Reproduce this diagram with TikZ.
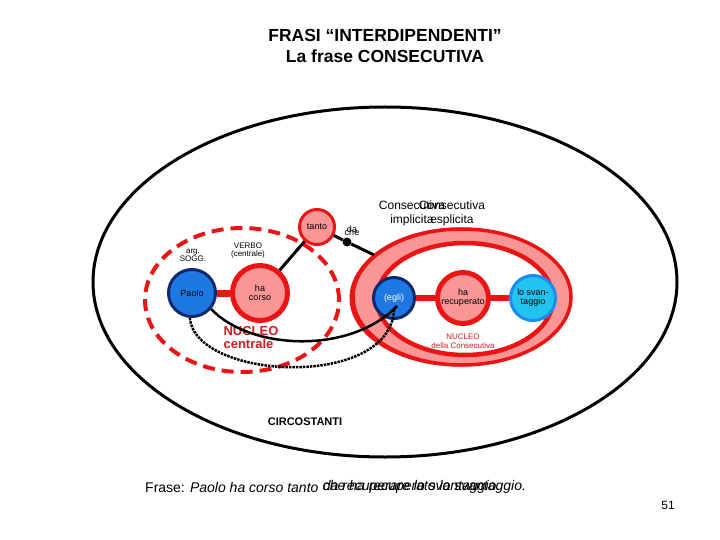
\documentclass[tikz,border=0pt]{standalone}
\usepackage{fontspec}
\setmainfont{Liberation Sans}
\usetikzlibrary{shapes.geometric, positioning, calc}

\definecolor{rosa}{RGB}{250,150,150}
\definecolor{rosso}{RGB}{235,20,20}
\definecolor{rossoscuro}{RGB}{205,30,35}
\definecolor{blu}{RGB}{30,120,225}
\definecolor{blunotte}{RGB}{15,40,110}
\definecolor{azzurro}{RGB}{35,195,240}
\definecolor{azzurrobordo}{RGB}{25,140,240}

\newcommand{\fs}[1]{\fontsize{#1}{#1}\selectfont}

\tikzset{
  verbo/.style={circle, draw=rosso, fill=rosa, line width=5pt, inner sep=0pt, align=center, font=\fs{9}},
  argom/.style={circle, draw=blunotte, fill=blu, line width=3pt, inner sep=0pt, align=center, font=\fs{9}},
  legame/.style={rosso, line width=7pt},
  filo/.style={black, line width=3pt},
  etich/.style={align=center, inner sep=0pt, font=\fs{8}}
}

\begin{document}
\begin{tikzpicture}[x=1pt, y=-1pt]
    \useasboundingbox (0,0) rectangle (720,540);

    % Titolo
    \node[font=\bfseries\fs{17.5}, align=center] (titolo) at (385,46)
      {FRASI “INTERDIPENDENTI”\\[4pt]La frase CONSECUTIVA};

    % Circostanti
    \draw[black, line width=3pt] (385,282) ellipse [x radius=292pt, y radius=175pt];
    \node[font=\bfseries\fs{11}] (circ) at (305,422) {CIRCOSTANTI};

    % Nucleo centrale
    \draw[rosso, line width=4pt, dash pattern=on 12pt off 7pt] (242,300) ellipse [x radius=97pt, y radius=72pt];

    % Consecutiva
    \fill[rosa, draw=rosso, line width=3pt] (455,298) ellipse [x radius=104pt, y radius=66pt];
    \fill[rosa, draw=rosso, line width=3pt] (459,297) ellipse [x radius=107pt, y radius=68pt];
    \node[ellipse, fill=rosa, draw=rosso, line width=3.5pt, minimum width=218pt, minimum height=136pt] (cons) at (462,297) {};
    \fill[white, draw=rosso, line width=4.5pt] (465,299) ellipse [x radius=88pt, y radius=56pt];

    \node[font=\fs{12}, align=center] (implicita) at (412,213) {Consecutiva\\[2pt]implicita};
    \node[font=\fs{12}, align=center] (esplicita) at (452,213) {Consecutiva\\[2pt]esplicita};

    % Nodi
    \node[argom, minimum size=47pt] (paolo) at (192,293) {Paolo};
    \node[verbo, minimum size=55pt] (corso) at (260,293) {ha\\corso};
    \node[verbo, line width=3pt, minimum size=35pt] (tanto) at (317,227) {tanto};

    \node[argom, text=white, minimum size=41pt] (egli) at (394,298) {(egli)};
    \node[verbo, minimum size=51pt] (recup) at (463,298) {ha\\recuperato};
    \node[argom, fill=azzurro, draw=azzurrobordo, minimum size=45pt] (svan) at (533,298) {lo svan-\\taggio};

    \draw[legame] (paolo) -- (corso);
    \draw[legame, line width=6pt] (egli) -- (recup);
    \draw[legame, line width=6pt] (recup) -- (svan);

    % Etichette
    \node[etich] (sogg) at (193,255) {arg.\\SOGG.};
    \node[etich] (verb) at (248,251) {VERBO\\(centrale)};
    \node[font=\bfseries\fs{13}, text=rossoscuro, align=left] (nucleo) at (251,338) {NUCLEO\\centrale};
    \node[etich, text=rossoscuro] (nucleocons) at (463,341) {NUCLEO\\[1pt]della Consecutiva};

    % Legami
    \draw[filo] (corso) -- (tanto);
    \node[circle, fill=black, inner sep=0pt, minimum size=9pt] (punto) at (347,242) {};
    \draw[filo] (tanto) -- (punto) -- (cons);
    \node[font=\fs{9}] (da) at (352,229) {da};
    \node[font=\fs{9}] (che) at (352,232) {che};

    \coordinate (egli1) at (397,306);
    \coordinate (egli2) at (394,310);
    \draw[filo, line width=2.5pt] (paolo.-40) .. controls (250,350) and (350,355) .. (egli1);
    \draw[black, line width=2.5pt, densely dotted] (paolo.-95) .. controls (195,380) and (390,390) .. (egli2);

    % Frase
    \node[anchor=west, font=\fs{14}, inner sep=0pt] (frase) at (145,487) {Frase: \textit{Paolo ha corso tanto}};
    \node[anchor=west, font=\itshape\fs{14}, inner sep=0pt] (fraseda) at ($(frase.east)+(4,0)$) {da recuperare lo svantaggio.};
    \node[anchor=west, font=\itshape\fs{14}, inner sep=0pt] (frasecche) at ($(frase.east)+(4,0)$) {che ha recuperato lo svantaggio.};

    \node[font=\fs{12}] (pagina) at (668,505) {51};
\end{tikzpicture}
\end{document}
